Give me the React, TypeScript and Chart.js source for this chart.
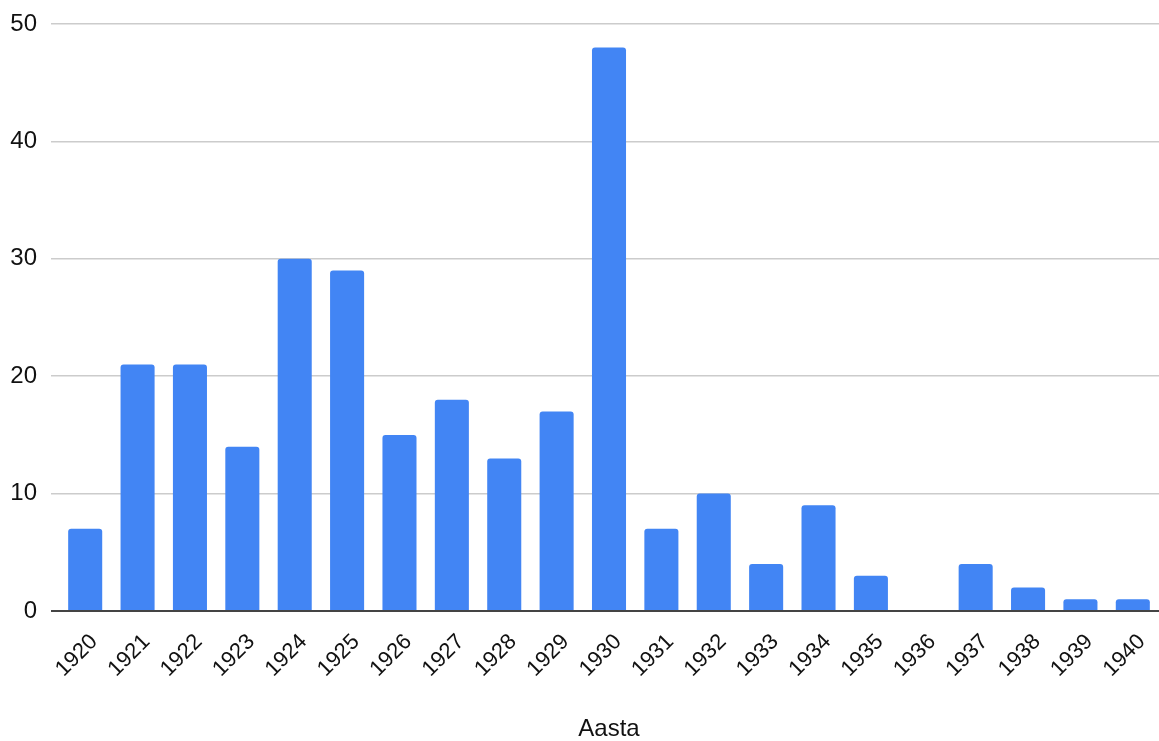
import React, { useEffect, useRef } from "react";
import { Chart, registerables } from "chart.js";

Chart.register(...registerables);

const years = ["1920","1921","1922","1923","1924","1925","1926","1927","1928","1929","1930","1931","1932","1933","1934","1935","1936","1937","1938","1939","1940"];
const counts = [7, 21, 21, 14, 30, 29, 15, 18, 13, 17, 48, 7, 10, 4, 9, 3, 0, 4, 2, 1, 1];
const yTicks = [0, 10, 20, 30, 40, 50];
const xTitle = "Aasta";

export default function App() {
  const ref = useRef<HTMLCanvasElement | null>(null);
  useEffect(() => {
    if (!ref.current) return;
    const family = "Liberation Sans, Arial, sans-serif";
    const font = { family, size: 24 };
    const xFont = { family, size: 22 };
    const chart = new Chart(ref.current, {
      type: "bar",
      data: {
        labels: years,
        datasets: [
          {
            data: counts,
            backgroundColor: "#4285F4",
            borderRadius: { topLeft: 3, topRight: 3, bottomLeft: 0, bottomRight: 0 },
            borderSkipped: "bottom",
            barPercentage: 0.65,
            categoryPercentage: 1,
          },
        ],
      },
      options: {
        animation: false,
        responsive: true,
        maintainAspectRatio: false,
        layout: { padding: { top: 24, right: 0, bottom: 0, left: 0 } },
        plugins: { legend: { display: false }, tooltip: { enabled: false } },
        scales: {
          x: {
            grid: { display: false, drawTicks: false },
            border: { display: false },
            ticks: {
              color: "#111111",
              font: xFont,
              minRotation: 45,
              maxRotation: 45,
              autoSkip: false,
              padding: 18,
              labelOffset: 9,
            },
            title: {
              display: true,
              text: xTitle,
              color: "#111111",
              font,
              padding: { top: 0, bottom: -3 },
            },
            afterFit: (s: any) => {
              s.height = 130;
              s.paddingLeft = 0;
              s.paddingRight = 0;
            },
          },
          y: {
            min: yTicks[0],
            max: yTicks[yTicks.length - 1],
            afterBuildTicks: (s: any) => {
              s.ticks = yTicks.map((v) => ({ value: v }));
            },
            grid: {
              color: (c: any) => (c.tick && c.tick.value === 0 ? "#444444" : "#cccccc"),
              lineWidth: (c: any) => (c.tick && c.tick.value === 0 ? 2 : 1.5),
              tickLength: 8,
              drawTicks: true,
            },
            border: { display: false },
            ticks: { color: "#111111", font, padding: 14 },
            afterFit: (s: any) => {
              s.width = 59;
              s.paddingTop = 0;
              s.paddingBottom = 0;
            },
          },
        },
      },
    });
    return () => chart.destroy();
  }, []);
  return (
    <div style={{ position: "absolute", left: 0, top: 0, width: 1159, height: 741, background: "#fff" }}>
      <canvas ref={ref} />
    </div>
  );
}
